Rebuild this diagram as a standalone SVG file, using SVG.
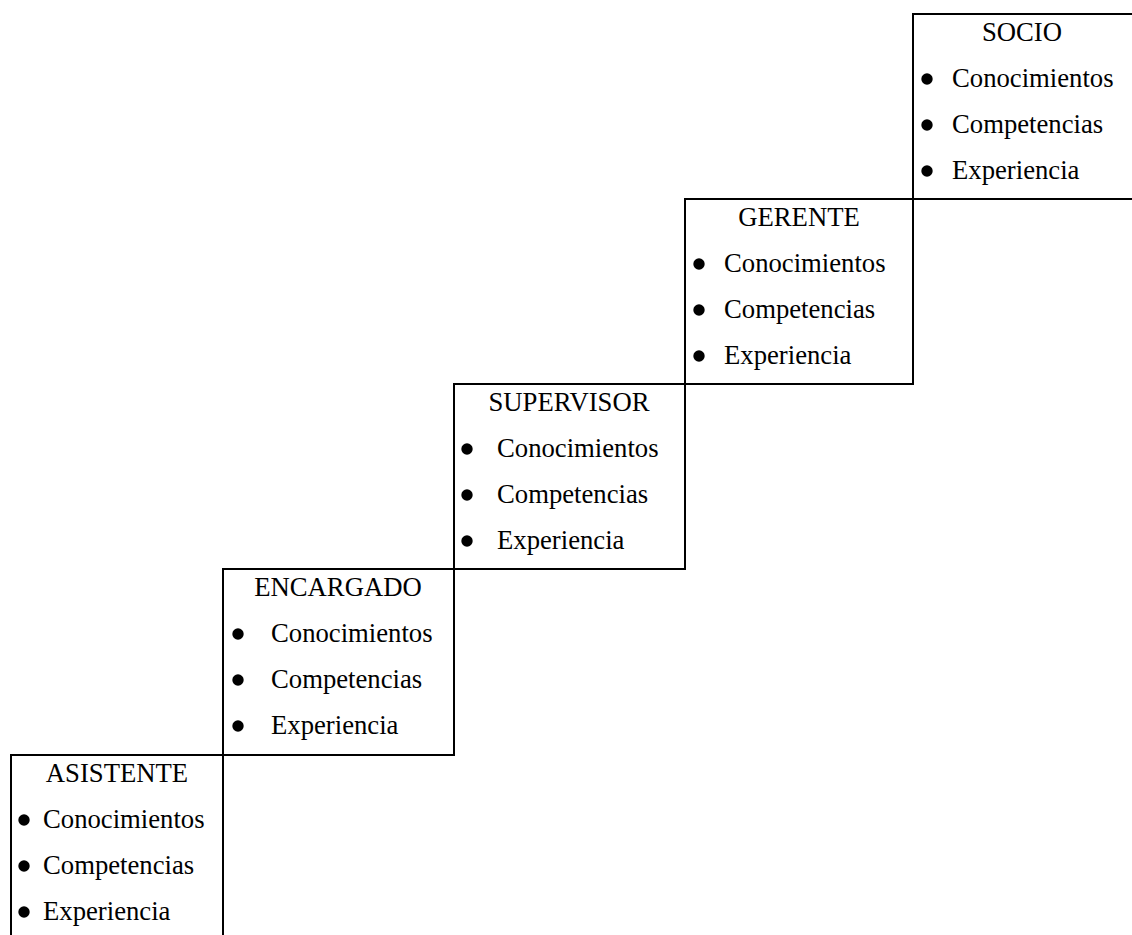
<svg xmlns="http://www.w3.org/2000/svg" width="1132" height="935" viewBox="0 0 1132 935">
  <style>
    .box { fill: none; stroke: #000; stroke-width: 2; }
    .title { font-family: "Liberation Serif", "Times New Roman", serif; font-size: 26.7px; fill: #000; text-anchor: middle; }
    .item { font-family: "Liberation Serif", "Times New Roman", serif; font-size: 26.7px; fill: #000; }
    .dot { fill: #000; }
  </style>
  <rect width="1132" height="935" fill="#fff"/>

  <!-- Career ladder: each step is one level -->
  <g id="asistente">
    <rect class="box" x="11" y="755" width="212" height="200"/>
    <text class="title" x="117" y="782">ASISTENTE</text>
    <circle class="dot" cx="24" cy="820" r="5.7"/>
    <text class="item" x="43" y="828">Conocimientos</text>
    <circle class="dot" cx="24" cy="866" r="5.7"/>
    <text class="item" x="43" y="874">Competencias</text>
    <circle class="dot" cx="24" cy="912" r="5.7"/>
    <text class="item" x="43" y="920">Experiencia</text>
  </g>

  <g id="encargado">
    <rect class="box" x="223" y="569" width="231" height="186"/>
    <text class="title" x="338" y="596">ENCARGADO</text>
    <circle class="dot" cx="238" cy="634" r="5.7"/>
    <text class="item" x="271" y="642">Conocimientos</text>
    <circle class="dot" cx="238" cy="680" r="5.7"/>
    <text class="item" x="271" y="688">Competencias</text>
    <circle class="dot" cx="238" cy="726" r="5.7"/>
    <text class="item" x="271" y="734">Experiencia</text>
  </g>

  <g id="supervisor">
    <rect class="box" x="454" y="384" width="231" height="185"/>
    <text class="title" x="569" y="411">SUPERVISOR</text>
    <circle class="dot" cx="467" cy="449" r="5.7"/>
    <text class="item" x="497" y="457">Conocimientos</text>
    <circle class="dot" cx="467" cy="495" r="5.7"/>
    <text class="item" x="497" y="503">Competencias</text>
    <circle class="dot" cx="467" cy="541" r="5.7"/>
    <text class="item" x="497" y="549">Experiencia</text>
  </g>

  <g id="gerente">
    <rect class="box" x="685" y="199" width="228" height="185"/>
    <text class="title" x="799" y="226">GERENTE</text>
    <circle class="dot" cx="699" cy="264" r="5.7"/>
    <text class="item" x="724" y="272">Conocimientos</text>
    <circle class="dot" cx="699" cy="310" r="5.7"/>
    <text class="item" x="724" y="318">Competencias</text>
    <circle class="dot" cx="699" cy="356" r="5.7"/>
    <text class="item" x="724" y="364">Experiencia</text>
  </g>

  <g id="socio">
    <rect class="box" x="913" y="14" width="240" height="185"/>
    <text class="title" x="1022" y="41">SOCIO</text>
    <circle class="dot" cx="927" cy="79" r="5.7"/>
    <text class="item" x="952" y="87">Conocimientos</text>
    <circle class="dot" cx="927" cy="125" r="5.7"/>
    <text class="item" x="952" y="133">Competencias</text>
    <circle class="dot" cx="927" cy="171" r="5.7"/>
    <text class="item" x="952" y="179">Experiencia</text>
  </g>
</svg>
